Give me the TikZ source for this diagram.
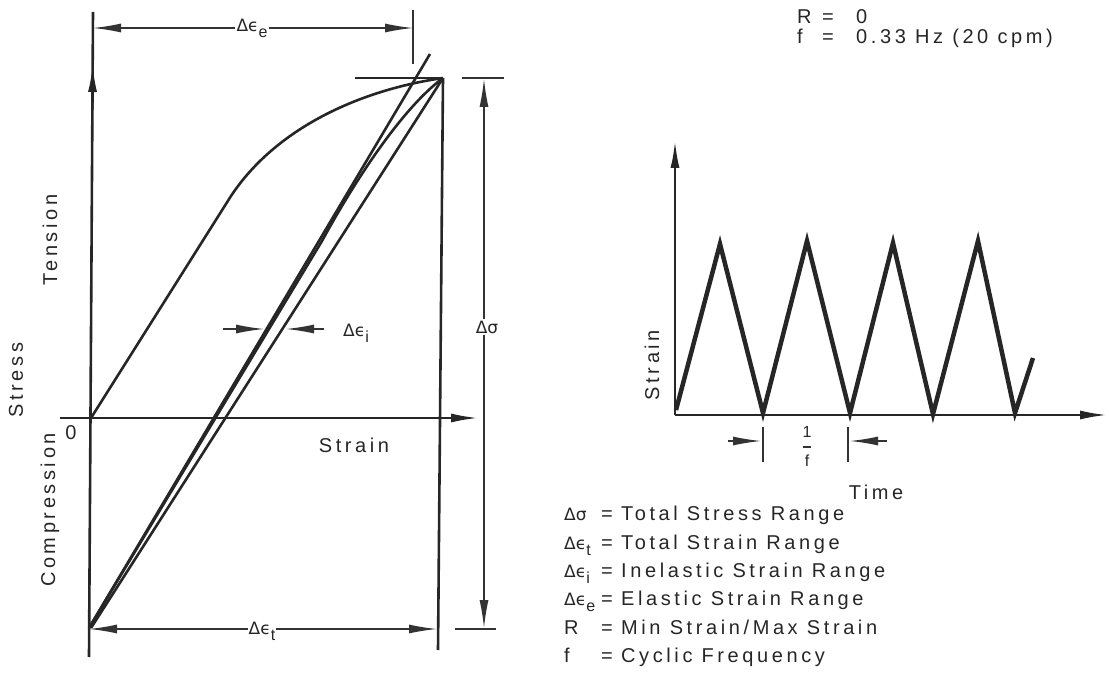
\documentclass[tikz,border=0pt]{standalone}
\usepackage{fontspec}
\setmainfont{Liberation Sans}[LetterSpace=18]
\newfontfamily\grk{DejaVu Sans}
\usetikzlibrary{arrows.meta}
\newcommand\dlt{{\grk\fontsize{17}{18}\selectfont Δϵ}}
\newcommand\dle[1]{\dlt\raisebox{-6pt}{\fontsize{16}{18}\selectfont #1}}
\newcommand\dsg{{\grk\fontsize{17}{18}\selectfont Δσ}}
\begin{document}
\begin{tikzpicture}[x=1pt,y=-1pt,
  ln/.style={line width=2.6pt, black!85},
  dim/.style={line width=1.4pt, black!80},
  wave/.style={line width=4.5pt, black!85, line join=miter},
  arr/.style={-{Latex[length=28pt,width=9pt]}},
  lbl/.style={font=\fontsize{20}{22}\selectfont, inner sep=1pt, text=black!85},
]
\useasboundingbox (0,0) rectangle (1109,676);

% ---------- left diagram ----------
\coordinate (O) at (91,418);
\coordinate (BL) at (89,628);
\coordinate (TR) at (443,78);
\coordinate (Atop) at (430,54);

% axes
\draw[ln] (89,657) -- (93,12);
\draw[ln,arr] (92.4,110) -- (92.7,64);
\draw[ln,arr] (60,418) -- (479,418);
\draw[ln] (TR) -- (438,650);
\draw[ln] (355,78) -- (TR);

% loop lines
\draw[ln] (BL) -- (Atop);
\draw[ln] (TR) -- (91,628);
\draw[ln] (BL) -- (322,241) .. controls (352,186) and (400,110) .. (TR);
\draw[ln] (O) -- (231,196) .. controls (276,128) and (360,90) .. (TR);

% Delta eps_e
\node[lbl] (de) at (252,28) {\dle{e}};
\coordinate (deL) at (93,28);
\coordinate (deR) at (413,28);
\draw[dim,arr] (de.west |- deL) -- (deL);
\draw[dim,arr] (de.east |- deR) -- (deR);
\draw[dim] (413,10) -- (413,64);

% Delta eps_t
\node[lbl] (dt) at (262,631) {\dle{t}};
\coordinate (dtL) at (89,629);
\coordinate (dtR) at (437,629);
\draw[dim,arr] (dt.west |- dtL) -- (dtL);
\draw[dim,arr] (dt.east |- dtR) -- (dtR);

% Delta sigma
\node[lbl] (ds) at (487,327) {\dsg};
\coordinate (dsT) at (484,79);
\coordinate (dsB) at (484,628);
\draw[dim,arr] (ds.north -| dsT) -- (dsT);
\draw[dim,arr] (ds.south -| dsB) -- (dsB);
\draw[dim] (462,78) -- (504,78);
\draw[dim] (455,629) -- (496,629);

% Delta eps_i
\node[lbl,anchor=west] (di) at (342,333) {\dle{i}};
\coordinate (diL) at (264,329);
\coordinate (diR) at (286,329);
\draw[dim,arr] (223,329) -- (diL);
\draw[dim,arr] (324,329) -- (diR);

% labels
\node[lbl,anchor=base] (zero) at (71,439) {0};
\node[lbl,anchor=base] (strainL) at (354,452) {Strain};
\node[lbl,rotate=90] (tension) at (50,240) {Tension};
\node[lbl,rotate=90] (stress) at (16,380) {Stress};
\node[lbl,rotate=90] (compr) at (50,510) {Compression};

% ---------- right diagram ----------
\coordinate (RO) at (675,415);
\draw[ln,arr] (RO) -- (675,140);
\draw[ln,arr] (RO) -- (1108,415);
\draw[wave] (676,410) -- (720,244) -- (763,413) -- (807,241) -- (850,413)
  -- (893,243) -- (933,414) -- (978,241) -- (1015,413) -- (1033,358);

\draw[dim] (763,427) -- (763,462);
\draw[dim] (848,427) -- (848,462);
\coordinate (pL) at (761,441);
\coordinate (pR) at (850,441);
\draw[dim,arr] (728,441) -- (pL);
\draw[dim,arr] (887,441) -- (pR);
\node[lbl,font=\fontsize{16}{16}\selectfont] (num) at (807,432) {1};
\node[lbl,font=\fontsize{16}{16}\selectfont] (den) at (807,461) {f};
\draw[dim] (803,447) -- (811,447);

\node[lbl] (time) at (876,492) {Time};
\node[lbl,rotate=90] (strainR) at (652,365) {Strain};

% top parameters
\node[lbl,anchor=base west] (R1) at (796,24) {R};
\node[lbl,anchor=base west] (R2) at (821,24) {=};
\node[lbl,anchor=base west] (R3) at (855,24) {0};
\node[lbl,anchor=base west] (f1) at (796,44) {f};
\node[lbl,anchor=base west] (f2) at (821,44) {=};
\node[lbl,anchor=base west] (f3) at (855,44) {0.33 Hz (20 cpm)};

% legend
\foreach \s/\t/\yy in {{\dsg}/{Total Stress Range}/520,
  {\dle{t}}/{Total Strain Range}/549,
  {\dle{i}}/{Inelastic Strain Range}/577,
  {\dle{e}}/{Elastic Strain Range}/605,
  {R}/{Min Strain/Max Strain}/634,
  {f}/{Cyclic Frequency}/662}{
  \node[lbl,anchor=base west] (s\yy) at (563,\yy) {\s};
  \node[lbl,anchor=base west] (e\yy) at (600,\yy) {=};
  \node[lbl,anchor=base west] (t\yy) at (620,\yy) {\t};
}
\end{tikzpicture}
\end{document}
